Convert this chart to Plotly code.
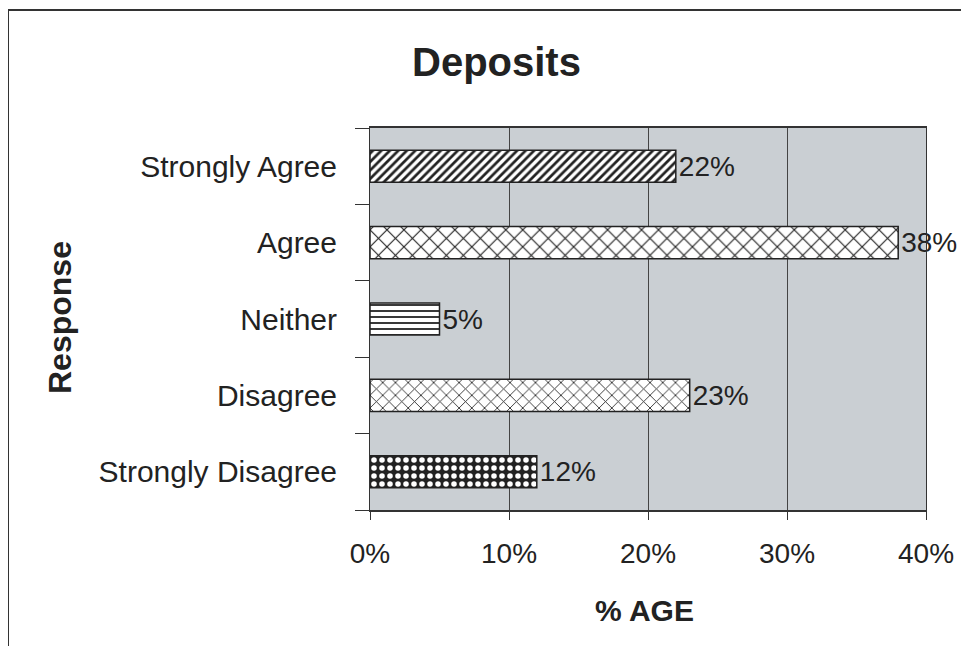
import plotly.graph_objects as go

categories = ["Strongly Agree", "Agree", "Neither", "Disagree", "Strongly Disagree"]
values = [0.22, 0.38, 0.05, 0.23, 0.12]
labels = ["22%", "38%", "5%", "23%", "12%"]
x_ticks = [0, 0.1, 0.2, 0.3, 0.4]
x_tick_labels = ["0%", "10%", "20%", "30%", "40%"]

pat_shapes = ["/", "x", "-", "x", "."]
pat_sizes = [6, 12, 6, 9, 8]
pat_solid = [0.45, 0.18, 0.3, 0.18, 0.38]
pat_fg = ["#222222", "#222222", "#222222", "#222222", "white"]
pat_bg = ["white", "white", "white", "white", "#222222"]

OFF = 8  # page body offset
W, H = 969 - 2 * OFF, 654 - 2 * OFF
L, T = 370 - OFF, 128 - OFF
R = W - (926 - OFF)
B = H - (510 - OFF)
pw, ph = W - L - R, H - T - B


def px(xp):
    return (xp - OFF - L) / pw


def py(yp):
    return ((H - B) - (yp - OFF)) / ph


FONT = "Liberation Sans, Arial"
TXT = "#222222"

fig = go.Figure()
for i, (c, v, t) in enumerate(zip(categories, values, labels)):
    fig.add_trace(go.Bar(
        y=[c], x=[v], orientation="h", width=0.42,
        text=[t], texttemplate="%{text}", textposition="outside", cliponaxis=False,
        textfont=dict(family=FONT, size=28, color=TXT),
        marker=dict(color="white", line=dict(color="#222222", width=1.5),
                    pattern=dict(shape=pat_shapes[i], fgcolor=pat_fg[i], bgcolor=pat_bg[i],
                                 size=pat_sizes[i], solidity=pat_solid[i], fillmode="replace")),
        showlegend=False, hoverinfo="skip",
    ))

fig.update_layout(
    width=W, height=H,
    margin=dict(l=L, r=R, t=T, b=B, autoexpand=False),
    paper_bgcolor="white", plot_bgcolor="#cacfd3",
    font=dict(family=FONT, color=TXT),
    bargap=0.58,
    xaxis=dict(range=[0, 0.4], tickvals=x_ticks, ticktext=x_tick_labels,
               showgrid=True, gridcolor="#444444", gridwidth=1,
               showline=True, linecolor="#333333", linewidth=1.5, mirror=True,
               ticks="outside", ticklen=8, tickcolor="#333333",
               ticklabelstandoff=10,
               tickfont=dict(size=28, color=TXT),
               zeroline=False),
    yaxis=dict(categoryorder="array", categoryarray=categories[::-1],
               tickson="boundaries", ticks="outside", ticklen=14, tickcolor="#333333",
               showgrid=False, showline=True, linecolor="#333333", linewidth=1, mirror=True,
               ticklabelstandoff=26,
               tickfont=dict(size=30, color=TXT)),
    shapes=[dict(type="rect", xref="paper", yref="paper",
                 x0=px(8), x1=px(1100), y0=py(800), y1=py(10),
                 line=dict(color="#333333", width=2), fillcolor="rgba(0,0,0,0)", layer="below")],
    annotations=[
        dict(text="<b>Deposits</b>", xref="paper", yref="paper", x=px(496), y=py(62),
             showarrow=False, xanchor="center", yanchor="middle",
             font=dict(family=FONT, size=40, color=TXT)),
        dict(text="<b>% AGE</b>", xref="paper", yref="paper", x=px(644), y=py(610),
             showarrow=False, xanchor="center", yanchor="middle",
             font=dict(family=FONT, size=30, color=TXT)),
        dict(text="<b>Response</b>", xref="paper", yref="paper", x=px(60), y=py(318),
             showarrow=False, xanchor="center", yanchor="middle", textangle=-90,
             font=dict(family=FONT, size=32, color=TXT)),
    ],
)

fig.write_html("out.html")
